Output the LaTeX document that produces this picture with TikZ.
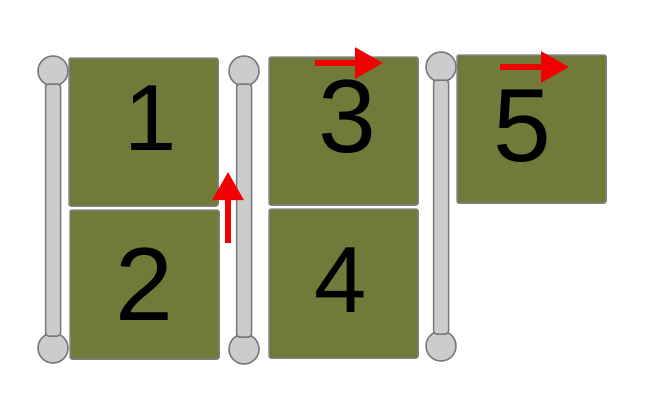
\documentclass[tikz,border=0pt]{standalone}
\usepackage{fontspec}
\setmainfont{Liberation Sans}
\usetikzlibrary{arrows.meta}
\definecolor{olive}{RGB}{114,122,58}
\definecolor{boxline}{RGB}{128,128,128}
\definecolor{polefill}{RGB}{204,204,204}
\definecolor{poleline}{RGB}{120,120,120}
\definecolor{arrred}{RGB}{240,0,0}
\tikzset{
  panel/.style={fill=olive, draw=boxline, line width=1.5pt, rounded corners=2pt},
  ball/.style={circle, fill=polefill, draw=poleline, line width=1.5pt, minimum size=30pt, inner sep=0pt},
  rod/.style={fill=polefill, draw=poleline, line width=1.5pt, rounded corners=3pt},
  bigdigit/.style={font=\fontsize{104}{104}\selectfont, inner sep=0pt, anchor=base, text=black},
  smalldigit/.style={font=\fontsize{94}{94}\selectfont, inner sep=0pt, anchor=base, text=black},
  movearrow/.style={draw=arrred, line width=5.5pt, -{Triangle[width=30pt,length=28pt]}}
}
\begin{document}
\begin{tikzpicture}[x=1pt,y=-1pt]
\useasboundingbox (0,0) rectangle (652,410);
% panels
\draw[panel] (69,58) rectangle (218,206);
\draw[panel] (70,210) rectangle (219,359);
\draw[panel] (269,57) rectangle (418,205);
\draw[panel] (269,209) rectangle (418,358);
\draw[panel] (457,55) rectangle (606,203);
% digits
\node[smalldigit] (d1) at (151,150) {1};
\node[bigdigit] (d2) at (144.5,320) {2};
\node[bigdigit] (d3) at (347,152) {3};
\node[smalldigit] (d4) at (341,312) {4};
\node[bigdigit] (d5) at (522,161) {5};
% poles
\node[ball] (p1t) at (53,71) {};
\node[ball] (p1b) at (53,348) {};
\draw[rod] (45.5,84) rectangle (60.5,336);
\node[ball] (p2t) at (244,71) {};
\node[ball] (p2b) at (244,349) {};
\draw[rod] (236.5,84) rectangle (251.5,337);
\node[ball] (p3t) at (441,67) {};
\node[ball] (p3b) at (441,346) {};
\draw[rod] (433.5,80) rectangle (448.5,334);
% arrows
\coordinate (a1s) at (228,243);
\coordinate (a1e) at (228,172);
\coordinate (a2s) at (315,63);
\coordinate (a2e) at (383,63);
\coordinate (a3s) at (500,67);
\coordinate (a3e) at (569,67);
\draw[movearrow] (a1s) -- (a1e);
\draw[movearrow] (a2s) -- (a2e);
\draw[movearrow] (a3s) -- (a3e);
\end{tikzpicture}
\end{document}
